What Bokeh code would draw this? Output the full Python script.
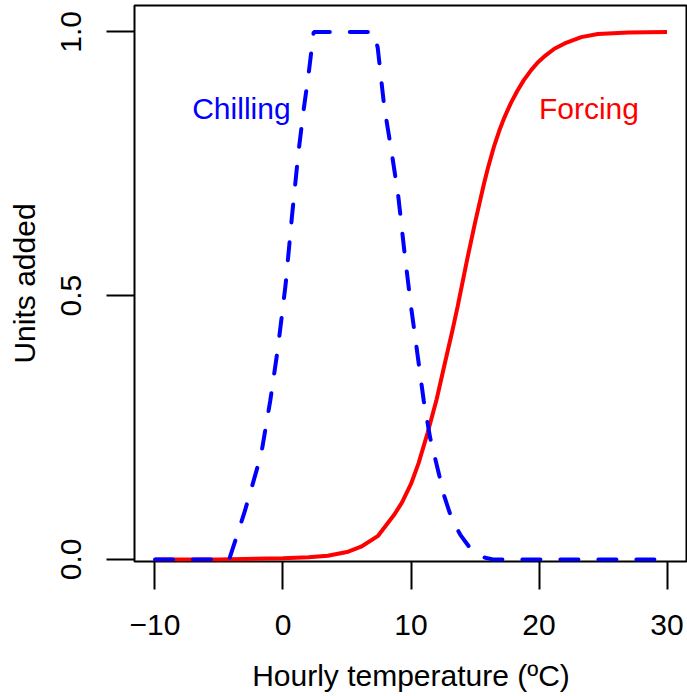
from bokeh.plotting import figure
from bokeh.models import Range1d, FixedTicker, Label
from bokeh.embed import file_html
from bokeh.resources import INLINE

# ---- data ----
chill_temp = [-10, -4.2, -3.6, -3.0, -2.4, -1.7, -1.0, -0.4, 0.2, 0.7, 1.2, 1.6, 2.0, 2.4,
              7.1, 7.4, 7.9, 8.5, 9.0, 9.5, 10.0, 10.5, 11.0, 11.5, 12.1, 12.6, 13.2,
              13.9, 14.6, 15.2, 15.8, 16.4, 30]
chill_units = [0.0, 0.0, 0.045, 0.09, 0.14, 0.20, 0.30, 0.40, 0.52, 0.65, 0.77, 0.85, 0.92, 1.0,
               1.0, 0.97, 0.86, 0.77, 0.69, 0.58, 0.48, 0.39, 0.30, 0.23, 0.17, 0.12, 0.075,
               0.045, 0.022, 0.01, 0.003, 0.0, 0.0]

force_temp = [-10, -5, 0, 2, 3.5, 5.0, 6.1, 7.4, 8.7, 9.3, 10.0, 10.6, 11.3, 12.0, 12.6, 13.2,
              13.65, 14.4, 15.0, 15.7, 16.0, 16.5, 16.9, 17.3, 17.8, 18.3, 18.8, 19.4, 19.9,
              20.5, 21.2, 22.0, 23.3, 24.6, 27.0, 30]
force_units = [0.0, 0.0, 0.002, 0.004, 0.007, 0.014, 0.024, 0.044, 0.085, 0.108, 0.143, 0.183,
               0.24, 0.303, 0.367, 0.43, 0.48, 0.57, 0.638, 0.712, 0.741, 0.784, 0.813, 0.838,
               0.865, 0.888, 0.908, 0.928, 0.942, 0.955, 0.968, 0.978, 0.99, 0.996, 0.999, 1.0]

x_ticks = [-10, 0, 10, 20, 30]
x_tick_labels = {-10: "\u221210", 0: "0", 10: "10", 20: "20", 30: "30"}
y_ticks = [0, 0.5, 1.0]
y_tick_labels = {0: "0.0", 0.5: "0.5", 1: "1.0"}

FONT = "Liberation Sans"
FS = "30px"

p = figure(width=687, height=696, output_backend="svg", toolbar_location=None,
           x_range=Range1d(-11.6, 31.6), y_range=Range1d(-0.004, 1.05),
           min_border_left=134, min_border_right=0, min_border_top=5,
           min_border_bottom=135)

p.xgrid.visible = False
p.ygrid.visible = False
p.outline_line_color = "black"
p.outline_line_width = 2
p.background_fill_color = "white"
p.border_fill_color = "white"

for ax in (p.xaxis[0], p.yaxis[0]):
    ax.axis_line_color = None
    ax.major_tick_in = 0
    ax.major_tick_out = 28
    ax.major_tick_line_width = 2
    ax.major_tick_line_color = "black"
    ax.minor_tick_line_color = None
    ax.major_label_text_font = FONT
    ax.major_label_text_font_size = FS
    ax.major_label_text_color = "black"
    ax.axis_label_text_font = FONT
    ax.axis_label_text_font_size = FS
    ax.axis_label_text_font_style = "normal"
    ax.axis_label_text_color = "black"

p.xaxis.ticker = FixedTicker(ticks=x_ticks)
p.xaxis.major_label_overrides = x_tick_labels
p.xaxis.major_label_standoff = 25
p.xaxis.axis_label = "Hourly temperature (\u00baC)"
p.xaxis.axis_label_standoff = 21

p.yaxis.ticker = FixedTicker(ticks=y_ticks)
p.yaxis.major_label_overrides = y_tick_labels
p.yaxis.major_label_orientation = "parallel"
p.yaxis.major_label_standoff = 25
p.yaxis.axis_label = "Units added"
p.yaxis.axis_label_standoff = 18

p.line(force_temp, force_units, line_color="#FF0000", line_width=4)
p.line(chill_temp, chill_units, line_color="#0000FF", line_width=4,
       line_dash="18 20", line_cap="round")

p.add_layout(Label(x=-3.25, y=0.855, text="Chilling", text_color="#0000FF",
                   text_font=FONT, text_font_size=FS, text_align="center",
                   text_baseline="alphabetic"))
p.add_layout(Label(x=23.9, y=0.855, text="Forcing", text_color="#FF0000",
                   text_font=FONT, text_font_size=FS, text_align="center",
                   text_baseline="alphabetic"))

open("out.html", "w").write(file_html(p, INLINE))
